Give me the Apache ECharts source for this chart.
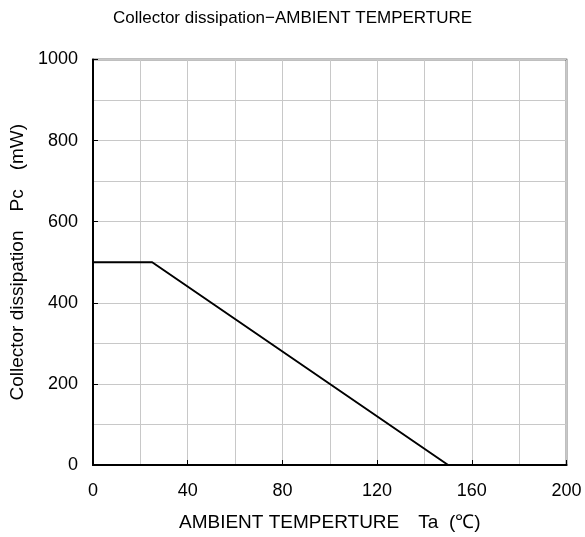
<!DOCTYPE html>
<html><head><meta charset="utf-8">
<script src="https://cdn.jsdelivr.net/npm/echarts@6/dist/echarts.min.js"></script>
<style>html,body{margin:0;padding:0;background:#fff}#c{width:585px;height:537px}</style>
</head><body><div id="c"></div>
<script>
const temperature = [0, 25, 150];
const dissipation = [500, 500, 0];
const xTicks = [0, 40, 80, 120, 160, 200];
const yTicks = [0, 200, 400, 600, 800, 1000];
const chart = echarts.init(document.getElementById('c'));
const font = '"Liberation Sans", Arial, sans-serif';
chart.setOption({
  animation: false,
  title: {text: 'Collector dissipation\u2212AMBIENT TEMPERTURE', left: 'center', top: 5,
    textStyle: {fontFamily: font, fontSize: 17, fontWeight: 'normal', color: '#000'}},
  grid: {left: 93, right: 18.5, top: 59.5, bottom: 71, show: true, borderColor: '#000', borderWidth: 1.5, backgroundColor: 'transparent'},
  xAxis: {type: 'value', min: xTicks[0], max: xTicks[xTicks.length-1], interval: 40,
    name: 'AMBIENT TEMPERTURE\u3000Ta  (\u2103)', nameLocation: 'middle', nameGap: 48,
    nameTextStyle: {fontFamily: font, fontSize: 19, color: '#000'},
    axisLine: {lineStyle: {color: '#000', width: 2}},
    axisTick: {inside: true, length: 5, lineStyle: {color: '#000', width: 1}},
    axisLabel: {margin: 17, fontFamily: font, fontSize: 18, color: '#000'},
    splitLine: {show: true, lineStyle: {color: '#c8c8c8', width: 1}},
    minorTick: {show: false, splitNumber: 2},
    minorSplitLine: {show: true, lineStyle: {color: '#c8c8c8', width: 1}}
  },
  yAxis: {type: 'value', min: yTicks[0], max: yTicks[yTicks.length-1], interval: 200,
    name: 'Collector dissipation\u3000Pc\u3000(mW)', nameLocation: 'middle', nameGap: 65, nameRotate: 90,
    nameTextStyle: {fontFamily: font, fontSize: 19, color: '#000'},
    axisLine: {lineStyle: {color: '#000', width: 2}},
    axisTick: {inside: true, length: 5, lineStyle: {color: '#000', width: 1}},
    axisLabel: {margin: 15, fontFamily: font, fontSize: 18, color: '#000', formatter: v => String(v)},
    splitLine: {show: true, lineStyle: {color: '#c8c8c8', width: 1}},
    minorTick: {show: false, splitNumber: 2},
    minorSplitLine: {show: true, lineStyle: {color: '#c8c8c8', width: 1}}
  },
  series: [{type: 'line', data: temperature.map((t, i) => [t, dissipation[i]]),
    symbol: 'none', lineStyle: {color: '#000', width: 2}}]
});
</script></body></html>
